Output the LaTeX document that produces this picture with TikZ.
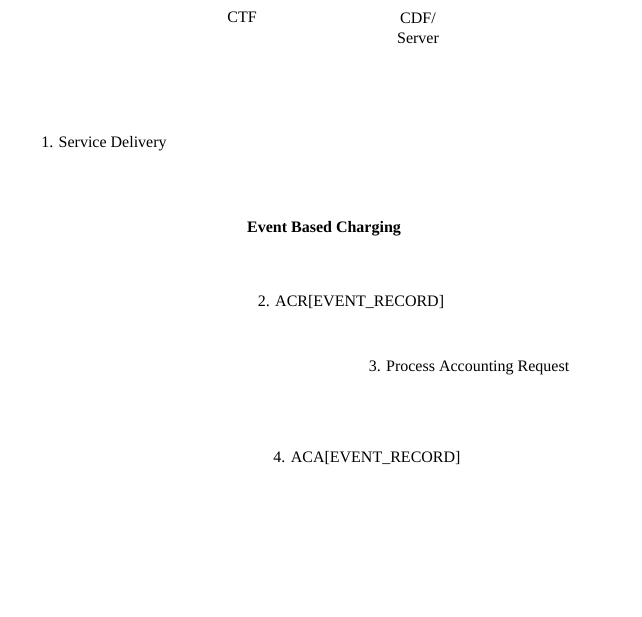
\documentclass[tikz,border=0pt]{standalone}
\usepackage{fontspec}
\setmainfont{Liberation Serif}
\begin{document}
\begin{tikzpicture}[x=1pt,y=-1pt,
  lbl/.style={inner sep=0pt,font=\fontsize{16}{20}\selectfont,align=center},
  blbl/.style={lbl,font=\fontsize{16}{20}\selectfont\bfseries}]
\useasboundingbox (0,0) rectangle (642,617);
\node[lbl] (ctf) at (242,17) {CTF};
\node[lbl] (cdf) at (418,28) {CDF/\\Server};
\node[lbl] (m1) at (104,144) {1. Service Delivery};
\node[blbl] (ebc) at (324,229) {Event Based Charging};
\node[lbl] (m2) at (351,302) {2. ACR[EVENT\_RECORD]};
\node[lbl] (m3) at (469,368) {3. Process Accounting Request};
\node[lbl] (m4) at (367,458) {4. ACA[EVENT\_RECORD]};
\end{tikzpicture}
\end{document}
